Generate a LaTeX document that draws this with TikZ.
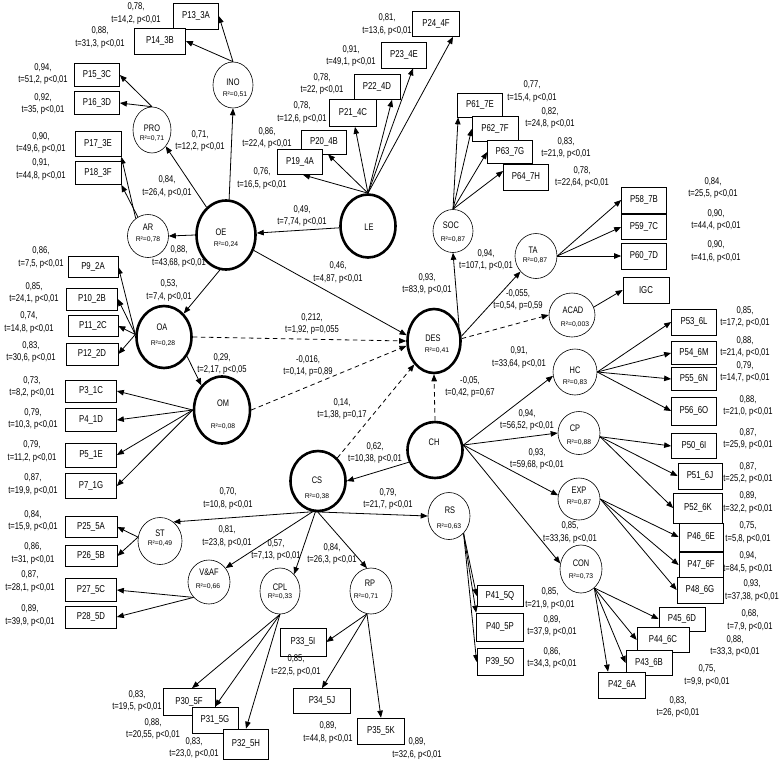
\documentclass[tikz,border=0pt]{standalone}
\usepackage{fontspec}
\setmainfont{Liberation Sans}
\newfontfamily\nar[FakeStretch=0.78]{Liberation Sans}
\usetikzlibrary{shapes.geometric,arrows.meta,backgrounds,calc}
\begin{document}
\begin{tikzpicture}[x=1pt,y=-1pt,
 box/.style={draw,fill=white,line width=0.7pt,inner sep=0,minimum width=46pt,minimum height=25pt,font=\nar\fontsize{10}{11}\selectfont},
 lv/.style={ellipse,draw,fill=white,line width=0.6pt,inner sep=0},
 lvb/.style={ellipse,draw,fill=white,line width=2.6pt,inner sep=0},
 nm/.style={inner sep=0,font=\nar\fontsize{9.5}{10}\selectfont},
 rr/.style={inner sep=0,font=\fontsize{6.8}{8}\selectfont},
 lab/.style={inner sep=0,align=center,font=\nar\fontsize{9.8}{12.5}\selectfont},
 arr/.style={line width=0.8pt,-{Triangle[length=7pt,width=5.5pt]}},
 darr/.style={arr,dash pattern=on 4.5pt off 3.5pt},
]
\useasboundingbox (0,0) rectangle (780,764);

% ---------- latent variables ----------
\node[lv,minimum width=40pt,minimum height=46pt] (INO) at (233,85) {};
\node[lv,minimum width=38pt,minimum height=46pt] (PRO) at (152,130) {};
\node[lv,minimum width=41pt,minimum height=43pt] (AR) at (148,236) {};
\node[lvb,minimum width=59pt,minimum height=69pt] (OE) at (226,235) {};
\node[lvb,minimum width=55pt,minimum height=63pt] (LE) at (368,226) {};
\node[lvb,minimum width=55pt,minimum height=62pt] (OA) at (164,337) {};
\node[lvb,minimum width=56pt,minimum height=67pt] (OM) at (222,410) {};
\node[lvb,minimum width=53pt,minimum height=64pt] (DES) at (434,341) {};
\node[lvb,minimum width=55pt,minimum height=56pt] (CH) at (435,450) {};
\node[lvb,minimum width=55pt,minimum height=60pt] (CS) at (318,481) {};
\node[lv,minimum width=40pt,minimum height=43pt] (SOC) at (453,231) {};
\node[lv,minimum width=42pt,minimum height=45pt] (TA) at (536,256) {};
\node[lv,minimum width=46pt,minimum height=44pt] (ACAD) at (572,315) {};
\node[lv,minimum width=44pt,minimum height=46pt] (HC) at (575,372) {};
\node[lv,minimum width=42pt,minimum height=43pt] (CP) at (579,433) {};
\node[lv,minimum width=42pt,minimum height=42pt] (EXP) at (579,499) {};
\node[lv,minimum width=42pt,minimum height=48pt] (CON) at (581,569) {};
\node[lv,minimum width=42pt,minimum height=47pt] (RS) at (449,516) {};
\node[lv,minimum width=44pt,minimum height=47pt] (ST) at (160,541) {};
\node[lv,minimum width=42pt,minimum height=44pt] (VAF) at (209,582) {};
\node[lv,minimum width=40pt,minimum height=46pt] (CPL) at (280,591) {};
\node[lv,minimum width=42pt,minimum height=46pt] (RP) at (371,591) {};

% names and R2
\node[nm] (tINO) at (233,82) {INO}; \node[rr] (rINO) at (235,95) {R²=0,51};
\node[nm] (tPRO) at (152,128) {PRO}; \node[rr] (rPRO) at (152,139) {R²=0,71};
\node[nm] (tAR) at (148,227) {AR}; \node[rr] (rAR) at (148,240) {R²=0,78};
\node[nm] (tOE) at (221,232) {OE}; \node[rr] (rOE) at (226,245) {R²=0,24};
\node[nm] (tLE) at (369,227) {LE};
\node[nm] (tOA) at (162,327) {OA}; \node[rr] (rOA) at (163,344) {R²=0,28};
\node[nm] (tOM) at (223,403) {OM}; \node[rr] (rOM) at (223,427) {R²=0,08};
\node[nm] (tDES) at (433,338) {DES}; \node[rr] (rDES) at (437,351) {R²=0,41};
\node[nm] (tCH) at (434,442) {CH};
\node[nm] (tCS) at (317,480) {CS}; \node[rr] (rCS) at (317,497) {R²=0,38};
\node[nm] (tSOC) at (451,225) {SOC}; \node[rr] (rSOC) at (453,240) {R²=0,87};
\node[nm] (tTA) at (533,250) {TA}; \node[rr] (rTA) at (535,261) {R²=0,87};
\node[nm] (tACAD) at (573,310) {ACAD}; \node[rr] (rACAD) at (575,325) {R²=0,003};
\node[nm] (tHC) at (575,370) {HC}; \node[rr] (rHC) at (575,383) {R²=0,83};
\node[nm] (tCP) at (575,428) {CP}; \node[rr] (rCP) at (579,443) {R²=0,88};
\node[nm] (tEXP) at (579,490) {EXP}; \node[rr] (rEXP) at (579,503) {R²=0,87};
\node[nm] (tCON) at (581,563) {CON}; \node[rr] (rCON) at (581,577) {R²=0,73};
\node[nm] (tRS) at (450,510) {RS}; \node[rr] (rRS) at (449,527) {R²=0,63};
\node[nm] (tST) at (160,533) {ST}; \node[rr] (rST) at (160,544) {R²=0,49};
\node[nm] (tVAF) at (209,572) {V\&AF}; \node[rr] (rVAF) at (208,587) {R²=0,66};
\node[nm] (tCPL) at (280,587) {CPL}; \node[rr] (rCPL) at (280,597) {R²=0,33};
\node[nm] (tRP) at (370,583) {RP}; \node[rr] (rRP) at (366,597) {R²=0,71};

% ---------- indicator boxes ----------
\node[box,minimum width=45pt,minimum height=26pt] (p13) at (196,16) {P13\_3A};
\node[box,minimum width=51pt,minimum height=26pt] (p14) at (160,41) {P14\_3B};
\node[box,minimum width=45pt,minimum height=23pt] (p15) at (97,75) {P15\_3C};
\node[box,minimum width=45pt,minimum height=23pt] (p16) at (97,103) {P16\_3D};
\node[box,minimum width=46pt,minimum height=25pt] (p17) at (98,144) {P17\_3E};
\node[box,minimum width=46pt,minimum height=23pt] (p18) at (98,173) {P18\_3F};
\node[box,minimum width=50pt,minimum height=21pt] (p9) at (93,267) {P9\_2A};
\node[box,minimum width=51pt,minimum height=22pt] (p10) at (92,299) {P10\_2B};
\node[box,minimum width=50pt,minimum height=21pt] (p11) at (93,326) {P11\_2C};
\node[box,minimum width=52pt,minimum height=22pt] (p12) at (92,354) {P12\_2D};
\node[box,minimum width=51pt,minimum height=22pt] (p3) at (91,391) {P3\_1C};
\node[box,minimum width=51pt,minimum height=23pt] (p4) at (91,420) {P4\_1D};
\node[box,minimum width=51pt,minimum height=24pt] (p5) at (91,455) {P5\_1E};
\node[box,minimum width=51pt,minimum height=25pt] (p7) at (91,486) {P7\_1G};
\node[box,minimum width=52pt,minimum height=21pt] (p25) at (91,527) {P25\_5A};
\node[box,minimum width=52pt,minimum height=21pt] (p26) at (91,556) {P26\_5B};
\node[box,minimum width=51pt,minimum height=23pt] (p27) at (91,590) {P27\_5C};
\node[box,minimum width=51pt,minimum height=22pt] (p28) at (91,617) {P28\_5D};
\node[box,minimum width=52pt,minimum height=27pt] (p30) at (189,702) {P30\_5F};
\node[box,minimum width=46pt,minimum height=26pt] (p31) at (215,720) {P31\_5G};
\node[box,minimum width=45pt,minimum height=30pt] (p32) at (246,744) {P32\_5H};
\node[box,minimum width=46pt,minimum height=28pt] (p33) at (303,642) {P33\_5I};
\node[box,minimum width=57pt,minimum height=25pt] (p34) at (322,701) {P34\_5J};
\node[box,minimum width=47pt,minimum height=26pt] (p35) at (381,731) {P35\_5K};
\node[box,minimum width=46pt,minimum height=21pt] (p41) at (500,596) {P41\_5Q};
\node[box,minimum width=47pt,minimum height=28pt] (p40) at (500,627) {P40\_5P};
\node[box,minimum width=46pt,minimum height=27pt] (p39) at (500,662) {P39\_5O};
\node[box,minimum width=46pt,minimum height=24pt] (p45) at (682,619) {P45\_6D};
\node[box,minimum width=52pt,minimum height=25pt] (p44) at (663,640) {P44\_6C};
\node[box,minimum width=46pt,minimum height=25pt] (p43) at (649,663) {P43\_6B};
\node[box,minimum width=47pt,minimum height=26pt] (p42) at (622,685) {P42\_6A};
\node[box,minimum width=46pt,minimum height=26pt] (p48) at (700,590) {P48\_6G};
\node[box,minimum width=44pt,minimum height=25pt] (p47) at (701,565) {P47\_6F};
\node[box,minimum width=44pt,minimum height=28pt] (p46) at (701,537) {P46\_6E};
\node[box,minimum width=49pt,minimum height=30pt] (p52) at (698,508) {P52\_6K};
\node[box,minimum width=44pt,minimum height=26pt] (p51) at (700,476) {P51\_6J};
\node[box,minimum width=45pt,minimum height=25pt] (p50) at (694,446) {P50\_6I};
\node[box,minimum width=45pt,minimum height=28pt] (p56) at (694,411) {P56\_6O};
\node[box,minimum width=45pt,minimum height=23pt] (p55) at (694,379) {P55\_6N};
\node[box,minimum width=45pt,minimum height=23pt] (p54) at (694,353) {P54\_6M};
\node[box,minimum width=45pt,minimum height=26pt] (p53) at (694,322) {P53\_6L};
\node[box,minimum width=46pt,minimum height=26pt] (igc) at (646,290) {IGC};
\node[box,minimum width=45pt,minimum height=26pt] (p60) at (644,256) {P60\_7D};
\node[box,minimum width=45pt,minimum height=25pt] (p59) at (644,227) {P59\_7C};
\node[box,minimum width=45pt,minimum height=26pt] (p58) at (644,200) {P58\_7B};
\node[box,minimum width=45pt,minimum height=24pt] (p61) at (480,105) {P61\_7E};
\node[box,minimum width=46pt,minimum height=25pt] (p62) at (495,129) {P62\_7F};
\node[box,minimum width=45pt,minimum height=23pt] (p63) at (510,152) {P63\_7G};
\node[box,minimum width=45pt,minimum height=26pt] (p64) at (526,177) {P64\_7H};
\node[box,minimum width=47pt,minimum height=25pt] (p24) at (436,24) {P24\_4F};
\node[box,minimum width=45pt,minimum height=26pt] (p23) at (404,55) {P23\_4E};
\node[box,minimum width=46pt,minimum height=25pt] (p22) at (377,87) {P22\_4D};
\node[box,minimum width=47pt,minimum height=27pt] (p21) at (353,113) {P21\_4C};
\node[box,minimum width=45pt,minimum height=24pt] (p20) at (324,142) {P20\_4B};
\node[box,minimum width=45pt,minimum height=25pt] (p19) at (300,162) {P19\_4A};

% ---------- connectors (behind the shapes) ----------
\begin{scope}[on background layer]
\fill[white] (0,0) rectangle (780,764);
\draw[arr] (INO.north) -- (p13.east);
\draw[arr] (INO.north) -- (p14.east);
\draw[arr] (PRO.north) -- (p15.east);
\draw[arr] (PRO.north) -- (p16.east);
\draw[arr] (AR.125) -- (p17.south east);
\draw[arr] (AR.118) -- (p18.south east);
\draw[arr] (OE.85) -- (INO.south);
\draw[arr] (OE.125) -- (PRO.-50);
\draw[arr] (OE.west) -- (AR.east);
\draw[arr] (OE.-100) -- (OA.50);
\draw[arr] (LE) -- (OE);
\draw[arr] (LE.north) -- ([xshift=3pt]p19.south);
\draw[arr] (LE.north) -- ([xshift=4pt]p20.south);
\draw[arr] (LE.north) -- ([xshift=2pt]p21.south);
\draw[arr] (LE.north) -- ([xshift=15pt]p22.south);
\draw[arr] (LE.north) -- ([xshift=9pt]p23.south);
\draw[arr] (LE.north) -- ([xshift=17pt]p24.south);
\draw[arr] (OE) -- (DES.168);
\draw[darr] (OA.east) -- (DES.west);
\draw[darr] (OM.east) -- (DES.190);
\draw[darr] (CS.50) -- (DES.-130);
\draw[darr] (CH.north) -- (DES.south);
\draw[arr] (CH.205) -- (CS.east);
\draw[arr] (CH.10) -- (HC.190);
\draw[arr] (CH.10) -- (CP.west);
\draw[arr] (CH.10) -- (EXP.170);
\draw[arr] (CH.10) -- (CON.165);
\draw[arr] (DES.30) -- (SOC.south);
\draw[arr] (DES.10) -- (TA.-135);
\draw[darr] (DES.5) -- (ACAD.west);
\draw[arr] (SOC.north) -- ([xshift=1pt]p61.south west);
\draw[arr] (SOC.north) -- (p62.west);
\draw[arr] (SOC.north) -- (p63.west);
\draw[arr] (SOC.north) -- ([yshift=6pt]p64.west);
\draw[arr] (TA.east) -- (p58.west);
\draw[arr] (TA.east) -- (p59.west);
\draw[arr] (TA.east) -- (p60.west);
\draw[arr] (ACAD.20) -- (igc.west);
\draw[arr] (HC.east) -- (p53.west);
\draw[arr] (HC.east) -- (p54.west);
\draw[arr] (HC.east) -- (p55.west);
\draw[arr] (HC.east) -- (p56.west);
\draw[arr] (CP.-10) -- (p50.west);
\draw[arr] (CP.-10) -- (p51.west);
\draw[arr] (CP.-10) -- (p52.west);
\draw[arr] (EXP.east) -- (p46.west);
\draw[arr] (EXP.east) -- (p47.west);
\draw[arr] (EXP.east) -- (p48.west);
\draw[arr] (CON.-55) -- (p45.west);
\draw[arr] (CON.-55) -- (p44.west);
\draw[arr] (CON.-55) -- (p43.west);
\draw[arr] (CON.-55) -- ([xshift=-14pt]p42.north);
\draw[arr] (CS.-100) -- (ST.55);
\draw[arr] (CS.-100) -- (VAF.40);
\draw[arr] (CS.-100) -- (RS.west);
\draw[arr] (CS.-95) -- (CPL.50);
\draw[arr] (CS.-90) -- (RP.100);
\draw[arr] (RS.-50) -- (p41.west);
\draw[arr] (RS.-50) -- (p40.north west);
\draw[arr] (RS.-50) -- (p39.west);
\draw[arr] (OA.175) -- (p9.east);
\draw[arr] (OA.175) -- (p10.east);
\draw[arr] (OA.175) -- (p11.east);
\draw[arr] (OA.175) -- (p12.east);
\draw[arr] (OA.-40) -- (OM.130);
\draw[arr] (OM.west) -- (p3.east);
\draw[arr] (OM.west) -- (p4.east);
\draw[arr] (OM.west) -- (p5.east);
\draw[arr] (OM.west) -- (p7.east);
\draw[arr] (ST.170) -- (p25.east);
\draw[arr] (ST.170) -- (p26.east);
\draw[arr] (VAF.-135) -- (p27.east);
\draw[arr] (VAF.-135) -- (p28.east);
\draw[arr] (CPL.south) -- ([xshift=3pt]p30.north);
\draw[arr] (CPL.south) -- (p31.north);
\draw[arr] (CPL.south) -- (p32.north);
\draw[arr] (RP.-100) -- (p33.east);
\draw[arr] (RP.-100) -- (p34.north);
\draw[arr] (RP.-100) -- (p35.north);
\end{scope}

% ---------- coefficient labels ----------
\node[lab] (l13) at (136,13.5) {0,78,\\t=14,2, p<0,01};
\node[lab] (l14) at (100,37.5) {0,88,\\t=31,3, p<0,01};
\node[lab] (l15) at (43,74) {0,94,\\t=51,2, p<0,01};
\node[lab] (l16) at (43,104) {0,92,\\t=35, p<0,01};
\node[lab] (l17) at (41,143) {0,90,\\t=49,6, p<0,01};
\node[lab] (l18) at (41,169.5) {0,91,\\t=44,8, p<0,01};
\node[lab] (lino) at (200,141) {0,71,\\t=12,2, p<0,01};
\node[lab] (lpro) at (167,186.5) {0,84,\\t=26,4, p<0,01};
\node[lab] (lar) at (179,256.5) {0,88,\\t=43,68, p<0,01};
\node[lab] (l19) at (262,178.5) {0,76,\\t=16,5, p<0,01};
\node[lab] (l20) at (267,138) {0,86,\\t=22,4, p<0,01};
\node[lab] (l21) at (302,112.5) {0,78,\\t=12,6, p<0,01};
\node[lab] (l22) at (322,84) {0,78,\\t=22, p<0,01};
\node[lab] (l23) at (351,56) {0,91,\\t=49,1, p<0,01};
\node[lab] (l24) at (387,24.5) {0,81,\\t=13,6, p<0,01};
\node[lab] (lleoe) at (302,216) {0,49,\\t=7,74, p<0,01};
\node[lab] (loedes) at (338,272.5) {0,46,\\t=4,87, p<0,01};
\node[lab] (loeoa) at (169,290.5) {0,53,\\t=7,4, p<0,01};
\node[lab] (l9) at (41,257.5) {0,86,\\t=7,5, p<0,01};
\node[lab] (l10) at (34,293) {0,85,\\t=24,1, p<0,01};
\node[lab] (l11) at (29,322.5) {0,74,\\t=14,8, p<0,01};
\node[lab] (l12) at (31,352) {0,83,\\t=30,6, p<0,01};
\node[lab] (loaom) at (222,364) {0,29,\\t=2,17, p<0,05};
\node[lab] (loades) at (312,324) {0,212,\\t=1,92, p=0,055};
\node[lab] (lomdes) at (308,366) {-0,016,\\t=0,14, p=0,89};
\node[lab] (l3) at (32,387) {0,73,\\t=8,2, p<0,01};
\node[lab] (l4) at (33,419) {0,79,\\t=10,3, p<0,01};
\node[lab] (l5) at (32,451.5) {0,79,\\t=11,2, p<0,01};
\node[lab] (l7) at (33,484.5) {0,87,\\t=19,9, p<0,01};
\node[lab] (lcsdes) at (342,409) {0,14,\\t=1,38, p=0,17};
\node[lab] (lchdes) at (470,387) {-0,05,\\t=0,42, p=0,67};
\node[lab] (lchcs) at (375,453) {0,62,\\t=10,38, p<0,01};
\node[lab] (ldessoc) at (427,284) {0,93,\\t=83,9, p<0,01};
\node[lab] (ldesta) at (486,260) {0,94,\\t=107,1, p<0,01};
\node[lab] (ldesacad) at (518,300) {-0,055,\\t=0,54, p=0,59};
\node[lab] (lcsst) at (228,498.5) {0,70,\\t=10,8, p<0,01};
\node[lab] (lcsvaf) at (227,536.5) {0,81,\\t=23,8, p<0,01};
\node[lab] (lcscpl) at (276,550) {0,57,\\t=7,13, p<0,01};
\node[lab] (lcsrp) at (332,554) {0,84,\\t=26,3, p<0,01};
\node[lab] (lcsrs) at (388,499) {0,79,\\t=21,7, p<0,01};
\node[lab] (l25) at (33,521) {0,84,\\t=15,9, p<0,01};
\node[lab] (l26) at (33,553.5) {0,86,\\t=31, p<0,01};
\node[lab] (l27) at (30,581.5) {0,87,\\t=28,1, p<0,01};
\node[lab] (l28) at (30,615.5) {0,89,\\t=39,9, p<0,01};
\node[lab] (l30) at (137,701) {0,83,\\t=19,5, p<0,01};
\node[lab] (l31) at (153,729) {0,88,\\t=20,55, p<0,01};
\node[lab] (l32) at (194,748) {0,83,\\t=23,0, p<0,01};
\node[lab] (l33) at (296,665.5) {0,85,\\t=22,5, p<0,01};
\node[lab] (l34) at (328,732.5) {0,89,\\t=44,8, p<0,01};
\node[lab] (l35) at (417,748.5) {0,89,\\t=32,6, p<0,01};
\node[lab] (l41) at (550,598.5) {0,85,\\t=21,9, p<0,01};
\node[lab] (l40) at (552,626) {0,89,\\t=37,9, p<0,01};
\node[lab] (l39) at (552,658) {0,86,\\t=34,3, p<0,01};
\node[lab] (l42) at (678,707) {0,83,\\t=26, p<0,01};
\node[lab] (l43) at (707,675.5) {0,75,\\t=9,9, p<0,01};
\node[lab] (l44) at (735,646) {0,88,\\t=33,3, p<0,01};
\node[lab] (l45) at (750,620.5) {0,68,\\t=7,9, p<0,01};
\node[lab] (l48) at (752,590.5) {0,93,\\t=37,38, p<0,01};
\node[lab] (l47) at (748,562.5) {0,94,\\t=84,5, p<0,01};
\node[lab] (l46) at (748,532.5) {0,75,\\t=5,8, p<0,01};
\node[lab] (l52) at (748,502.5) {0,89,\\t=32,2, p<0,01};
\node[lab] (l51) at (748,473) {0,87,\\t=25,2, p<0,01};
\node[lab] (l50) at (748,439) {0,87,\\t=25,9, p<0,01};
\node[lab] (l56) at (748,406) {0,88,\\t=21,0, p<0,01};
\node[lab] (l55) at (745,372) {0,79,\\t=14,7, p<0,01};
\node[lab] (l54) at (745,347) {0,88,\\t=21,4, p<0,01};
\node[lab] (l53) at (745,317) {0,85,\\t=17,2, p<0,01};
\node[lab] (lchhc) at (519,357.5) {0,91,\\t=33,64, p<0,01};
\node[lab] (lchcp) at (527,420) {0,94,\\t=56,52, p<0,01};
\node[lab] (lchexp) at (537,459) {0,93,\\t=59,68, p<0,01};
\node[lab] (lchcon) at (570,532.5) {0,85,\\t=33,36, p<0,01};
\node[lab] (l60) at (716,251.5) {0,90,\\t=41,6, p<0,01};
\node[lab] (l59) at (716,220) {0,90,\\t=44,4, p<0,01};
\node[lab] (l58) at (713,188) {0,84,\\t=25,5, p<0,01};
\node[lab] (l61) at (532,91.5) {0,77,\\t=15,4, p<0,01};
\node[lab] (l62) at (550,118) {0,82,\\t=24,8, p<0,01};
\node[lab] (l63) at (566,148) {0,83,\\t=21,9, p<0,01};
\node[lab] (l64) at (582,177) {0,78,\\t=22,64, p<0,01};
\end{tikzpicture}
\end{document}
